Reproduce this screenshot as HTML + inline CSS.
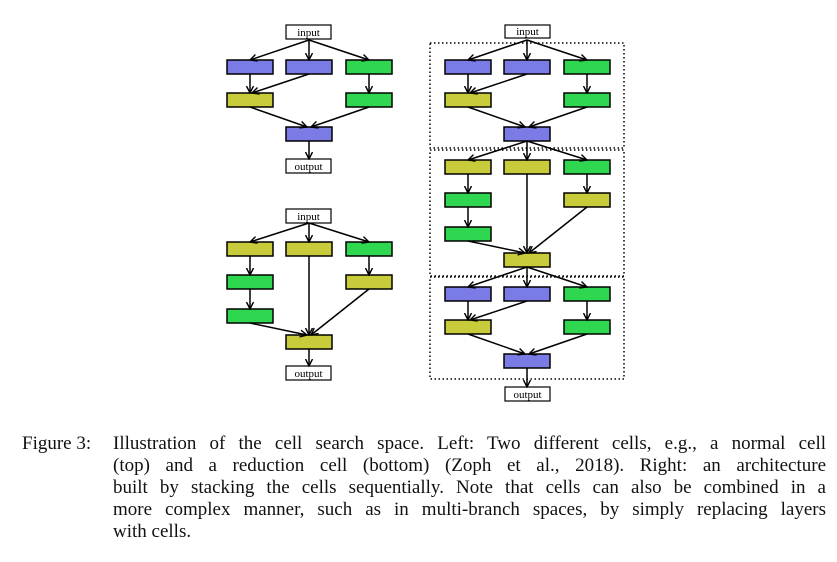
<!DOCTYPE html>
<html><head><style>
body{margin:0;background:#fff;width:837px;height:562px;overflow:hidden;position:relative}
.cap{position:absolute;font-family:"Liberation Serif",serif;font-size:19px;line-height:22px;color:#111;white-space:nowrap}
.j{text-align:justify;text-align-last:justify;width:713px;left:113px}
</style></head><body>
<svg width="837" height="420" style="position:absolute;left:0;top:0" font-family="Liberation Serif, serif" font-size="11">
<defs>
<marker id="a" markerUnits="userSpaceOnUse" markerWidth="8" markerHeight="8" refX="7" refY="4" orient="auto"><path d="M0,0.5 L7,4 L0,7.5" fill="none" stroke="#000" stroke-width="1.4"/></marker>
<g id="cA" stroke="#000" stroke-width="1.5">
<rect x="0" y="0" width="46" height="14" fill="#7b7be6"/><rect x="59" y="0" width="46" height="14" fill="#7b7be6"/><rect x="119" y="0" width="46" height="14" fill="#2fd64f"/>
<rect x="0" y="33" width="46" height="14" fill="#c8cc3a"/><rect x="119" y="33" width="46" height="14" fill="#2fd64f"/><rect x="59" y="67" width="46" height="14" fill="#7b7be6"/>
<g marker-end="url(#a)" fill="none">
<line x1="82" y1="-20" x2="23" y2="0"/><line x1="82" y1="-20" x2="82" y2="0"/><line x1="82" y1="-20" x2="142" y2="0"/>
<line x1="23" y1="14" x2="23" y2="33"/><line x1="82" y1="14" x2="25" y2="33"/><line x1="142" y1="14" x2="142" y2="33"/>
<line x1="23" y1="47" x2="80" y2="67"/><line x1="142" y1="47" x2="84" y2="67"/></g></g>
<g id="cB" stroke="#000" stroke-width="1.5">
<rect x="0" y="0" width="46" height="14" fill="#c8cc3a"/><rect x="59" y="0" width="46" height="14" fill="#c8cc3a"/><rect x="119" y="0" width="46" height="14" fill="#2fd64f"/>
<rect x="0" y="33" width="46" height="14" fill="#2fd64f"/><rect x="119" y="33" width="46" height="14" fill="#c8cc3a"/><rect x="0" y="67" width="46" height="14" fill="#2fd64f"/>
<rect x="59" y="93" width="46" height="14" fill="#c8cc3a"/>
<g marker-end="url(#a)" fill="none">
<line x1="82" y1="-19" x2="23" y2="0"/><line x1="82" y1="-19" x2="82" y2="0"/><line x1="82" y1="-19" x2="142" y2="0"/>
<line x1="23" y1="14" x2="23" y2="33"/><line x1="23" y1="47" x2="23" y2="67"/><line x1="142" y1="14" x2="142" y2="33"/>
<line x1="82" y1="14" x2="82" y2="93"/><line x1="23" y1="81" x2="80" y2="93"/><line x1="142" y1="47" x2="84" y2="93"/></g></g>
</defs>
<g stroke="#000" stroke-width="1.2" fill="#fff">
<rect x="286" y="25" width="45" height="14"/><rect x="286" y="159" width="45" height="14"/>
<rect x="286" y="209" width="45" height="14"/><rect x="286" y="366" width="45" height="14"/>
<rect x="505" y="25" width="45" height="13"/><rect x="505" y="387" width="45" height="14"/>
</g>
<g text-anchor="middle" fill="#000">
<text x="308.5" y="36">input</text><text x="308.5" y="170">output</text>
<text x="308.5" y="220">input</text><text x="308.5" y="377">output</text>
<text x="527.5" y="35">input</text><text x="527.5" y="398">output</text>
</g>
<use href="#cA" x="227" y="60"/>
<use href="#cB" x="227" y="242"/>
<use href="#cA" x="445" y="60"/>
<use href="#cB" x="445" y="160"/>
<use href="#cA" x="445" y="287"/>
<g stroke="#000" stroke-width="1.5" marker-end="url(#a)">
<line x1="309" y1="141" x2="309" y2="159"/><line x1="309" y1="349" x2="309" y2="366"/><line x1="527" y1="368" x2="527" y2="387"/>
</g>
<g fill="none" stroke="#000" stroke-width="1.5" stroke-dasharray="1.5,2.5">
<rect x="430" y="43" width="194" height="105"/><rect x="430" y="150" width="194" height="126"/><rect x="430" y="277" width="194" height="102"/>
</g>
</svg>
<div class="cap" style="left:22px;top:433px">Figure 3:</div>
<div class="cap j" style="top:433px">Illustration of the cell search space. Left: Two different cells, e.g., a normal cell</div>
<div class="cap j" style="top:455px">(top) and a reduction cell (bottom) (Zoph et al., 2018). Right: an architecture</div>
<div class="cap j" style="top:477px">built by stacking the cells sequentially. Note that cells can also be combined in a</div>
<div class="cap j" style="top:499px">more complex manner, such as in multi-branch spaces, by simply replacing layers</div>
<div class="cap" style="left:113px;top:521px">with cells.</div>
</body></html>
